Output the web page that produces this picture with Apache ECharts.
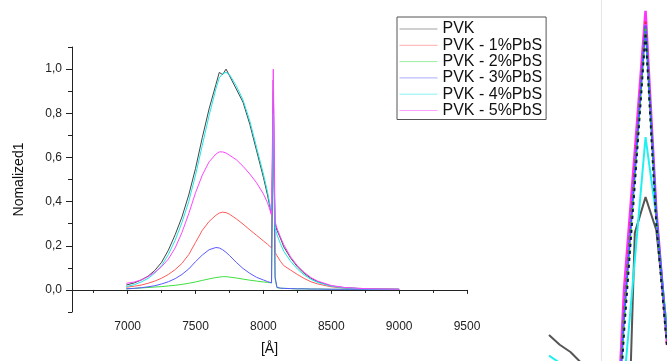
<!DOCTYPE html>
<html><head><meta charset="utf-8">
<script src="https://cdn.jsdelivr.net/npm/echarts@6/dist/echarts.min.js"></script>
<style>html,body{margin:0;padding:0;background:#fff}#c{width:667px;height:361px}</style>
</head><body><div id="c"></div>
<script>
// ---- main chart data ----
const wavelengths = [6990, 7050, 7100, 7150, 7200, 7250, 7300, 7350, 7400, 7450, 7500, 7550, 7600, 7650, 7675, 7700, 7725, 7750, 7800, 7850, 7900, 7950, 8000, 8030, 8060, 8073, 8086, 8100, 8125, 8150, 8200, 8250, 8300, 8350, 8400, 8500, 8600, 8700, 8800, 9000];
const pvk    = [0.022, 0.032, 0.045, 0.062, 0.088, 0.125, 0.18, 0.25, 0.33, 0.43, 0.55, 0.69, 0.82, 0.93, 0.985, 0.975, 1.0, 0.97, 0.91, 0.85, 0.75, 0.63, 0.51, 0.43, 0.34, 0.67, 0.30, 0.27, 0.235, 0.195, 0.145, 0.105, 0.075, 0.053, 0.037, 0.018, 0.010, 0.007, 0.005, 0.003];
const pbs1   = [0.012, 0.017, 0.022, 0.030, 0.040, 0.053, 0.070, 0.092, 0.12, 0.16, 0.215, 0.27, 0.31, 0.338, 0.348, 0.352, 0.35, 0.343, 0.322, 0.298, 0.272, 0.247, 0.222, 0.207, 0.19, 0.95, 0.17, 0.155, 0.13, 0.11, 0.09, 0.07, 0.052, 0.037, 0.027, 0.014, 0.008, 0.005, 0.004, 0.003];
const pbs2   = [0.005, 0.007, 0.009, 0.011, 0.013, 0.015, 0.018, 0.021, 0.025, 0.030, 0.036, 0.043, 0.050, 0.056, 0.058, 0.060, 0.060, 0.058, 0.054, 0.049, 0.044, 0.040, 0.036, 0.034, 0.032, 0.90, 0.05, 0.010, 0.008, 0.007, 0.006, 0.005, 0.005, 0.004, 0.004, 0.003, 0.003, 0.003, 0.002, 0.002];
const pbs3   = [0.005, 0.007, 0.010, 0.014, 0.019, 0.027, 0.037, 0.051, 0.070, 0.095, 0.128, 0.158, 0.182, 0.192, 0.19, 0.182, 0.17, 0.156, 0.125, 0.097, 0.075, 0.057, 0.045, 0.038, 0.032, 0.95, 0.06, 0.012, 0.008, 0.007, 0.006, 0.005, 0.005, 0.004, 0.004, 0.003, 0.003, 0.003, 0.002, 0.002];
const pbs4   = [0.015, 0.024, 0.036, 0.052, 0.076, 0.11, 0.16, 0.225, 0.305, 0.40, 0.52, 0.655, 0.79, 0.91, 0.96, 0.98, 0.985, 0.975, 0.925, 0.86, 0.765, 0.645, 0.525, 0.445, 0.35, 0.80, 0.28, 0.25, 0.21, 0.175, 0.13, 0.095, 0.068, 0.048, 0.034, 0.017, 0.009, 0.006, 0.004, 0.003];
const pbs5   = [0.030, 0.036, 0.045, 0.060, 0.080, 0.105, 0.14, 0.19, 0.26, 0.345, 0.44, 0.52, 0.58, 0.615, 0.625, 0.625, 0.62, 0.61, 0.59, 0.56, 0.525, 0.485, 0.435, 0.395, 0.34, 1.0, 0.31, 0.28, 0.24, 0.205, 0.15, 0.11, 0.08, 0.056, 0.04, 0.02, 0.011, 0.007, 0.005, 0.003];
const seriesNames = ['PVK', 'PVK - 1%PbS', 'PVK - 2%PbS', 'PVK - 3%PbS', 'PVK - 4%PbS', 'PVK - 5%PbS'];
const yTicks = [0, 0.2, 0.4, 0.6, 0.8, 1.0];
const yMinorTicks = [-0.1, 0.1, 0.3, 0.5, 0.7, 0.9, 1.1];
const xTicks = [7000, 7500, 8000, 8500, 9000, 9500];
const xMinorTicks = [6750, 7250, 7750, 8250, 8750, 9250];

// ---- cropped neighbouring chart (right edge) ----
const insetX      = [0, 1, 2, 3, 4, 5, 6, 7, 8, 9, 10, 11];
const insetBlack  = [7.2, 4.5, 2.5, -0.5, -20, -40, -60, -62, 35.5, 45.4, 36.3, 8.6];
const insetCyan   = [1.5, -0.5, -5, -10, -20, -30, -40, -6, 28, 62, 40, 8];
const insetMag    = [null, null, null, null, null, null, -40, 20, 58, 97, 42, 5];
const insetRed    = [null, null, null, null, null, null, -40, 14, 54, 94, 40, 4];
const insetBlue   = [null, null, null, null, null, null, -40, 12, 52, 93, 41, 6];
const insetGreen  = [null, null, null, null, null, null, -40, 10, 50, 92, 39, 5];
const insetNavy   = [null, null, null, null, null, null, -40, 8, 49, 91, 38, 4];
const insetRefLine = 4.9;

const FONT = 'Arial, "Liberation Sans", sans-serif';
const colors = ['#444444', '#ff5a5a', '#3fe03f', '#5a5aff', '#1ee6e6', '#ff44ff'];
const mainData = [pvk, pbs1, pbs2, pbs3, pbs4, pbs5];

const series = mainData.map((arr, k) => ({
  name: seriesNames[k], type: 'line', xAxisIndex: 0, yAxisIndex: 0,
  symbol: 'none', showSymbol: false, smooth: false,
  lineStyle: { width: 1, color: colors[k] }, itemStyle: { color: colors[k] },
  data: wavelengths.map((w, i) => [w, arr[i]])
}));

function inset(name, arr, color, width, type, z) {
  return {
    name: name, type: 'line', xAxisIndex: 2, yAxisIndex: 2, symbol: 'none', showSymbol: false,
    lineStyle: { width: width, color: color, type: type }, z: z || 2, connectNulls: false,
    data: insetX.map((x, i) => [x, arr[i]])
  };
}
const blackInset = inset('i0', insetBlack, '#555555', 2, 'solid', 2);
blackInset.markLine = { silent: true, symbol: 'none', label: { show: false },
  lineStyle: { color: '#e6e6e6', width: 1, type: 'solid' }, data: [{ xAxis: insetRefLine }] };
series.push(blackInset);
series.push(inset('i1', insetCyan, '#22f0f0', 2, 'solid'));
series.push(inset('i2', insetMag, '#ff33ff', 2.5, 'solid'));
series.push(inset('i3', insetRed, '#ff2020', 2, [4, 3]));
series.push(inset('i4', insetBlue, '#4060ff', 2, 'solid'));
series.push(inset('i5', insetGreen, '#20d020', 2, [4, 3]));
series.push(inset('i6', insetNavy, '#101060', 2, [3, 4]));

const option = {
  animation: false,
  backgroundColor: '#ffffff',
  textStyle: { fontFamily: FONT },
  grid: [
    { left: 72, right: 200, top: 47, bottom: 46, containLabel: false },
    { left: 549, top: 0, width: 121, height: 361, containLabel: false }
  ],
  legend: {
    data: seriesNames, orient: 'vertical', left: 397, top: 17,
    padding: [4, 4, 1, 2], itemGap: 0.3, itemWidth: 38, itemHeight: 14,
    borderColor: '#555', borderWidth: 1, backgroundColor: '#fff',
    textStyle: { fontSize: 16, color: '#111', fontFamily: FONT },
    itemStyle: { opacity: 0 },
    lineStyle: { opacity: 0.5, width: 1 }
  },
  xAxis: [
    { type: 'value', gridIndex: 0, min: 6590, max: 9500, position: 'bottom',
      name: '[Å]', nameLocation: 'middle', nameGap: 30,
      nameTextStyle: { fontSize: 14, color: '#111', fontFamily: FONT },
      axisLine: { show: true, lineStyle: { color: '#222', width: 1 } },
      axisTick: { show: true, customValues: xTicks, length: 4, lineStyle: { color: '#222' } },
      axisLabel: { customValues: xTicks, fontSize: 12, color: '#222', margin: 9, fontFamily: FONT,
        formatter: v => String(Math.round(v)) },
      splitLine: { show: false } },
    { type: 'value', gridIndex: 0, min: 6590, max: 9500, position: 'bottom', offset: 0,
      axisLine: { show: false },
      axisTick: { show: true, customValues: xMinorTicks, length: 3, lineStyle: { color: '#222' } },
      axisLabel: { show: false }, splitLine: { show: false } },
    { type: 'value', gridIndex: 1, min: 0, max: 11, show: false }
  ],
  yAxis: [
    { type: 'value', gridIndex: 0, min: -0.1, max: 1.1, position: 'left',
      name: 'Nomalized1', nameLocation: 'middle', nameGap: 46, nameRotate: 90,
      nameTextStyle: { fontSize: 14, color: '#111', fontFamily: FONT },
      axisLine: { show: true, lineStyle: { color: '#222', width: 1 } },
      axisTick: { show: true, customValues: yTicks, length: 6, lineStyle: { color: '#222' } },
      axisLabel: { customValues: yTicks, fontSize: 12, color: '#222', margin: 10, fontFamily: FONT,
        formatter: v => Number(v).toFixed(1).replace('.', ',') },
      splitLine: { show: false } },
    { type: 'value', gridIndex: 0, min: -0.1, max: 1.1, position: 'left', offset: 0,
      axisLine: { show: false },
      axisTick: { show: true, customValues: yMinorTicks, length: 4, lineStyle: { color: '#222' } },
      axisLabel: { show: false }, splitLine: { show: false } },
    { type: 'value', gridIndex: 1, min: 0, max: 100, show: false }
  ],
  series: series
};
const chart = echarts.init(document.getElementById('c'), null, { renderer: 'canvas' });
chart.setOption(option);
</script></body></html>
